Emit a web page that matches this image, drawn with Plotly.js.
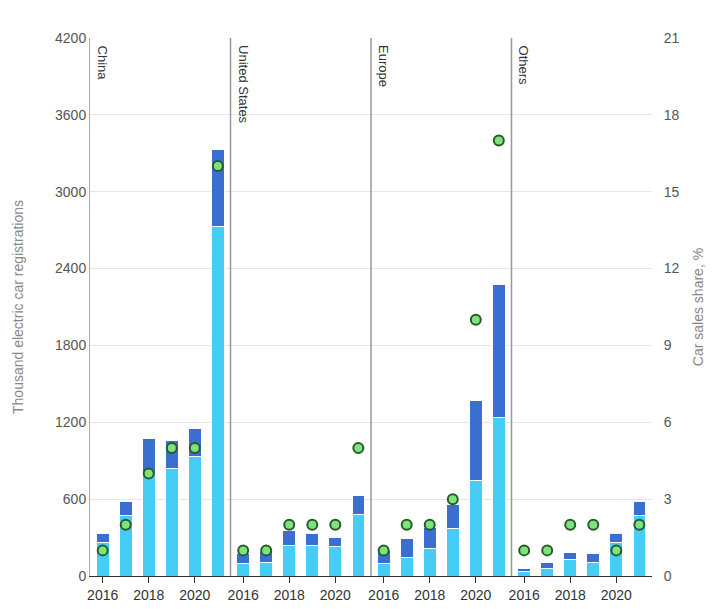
<!DOCTYPE html><html><head><script src="https://cdn.plot.ly/plotly-3.0.1.min.js"></script></head><body style="margin:0"><div id="c" style="width:720px;height:609px"></div><script>
const regions=["China","United States","Europe","Others"];
const years=[2016,2017,2018,2019,2020,2021];
const bev={China:[265,470,800,842,936,2730],"United States":[94,109,242,242,234,484],Europe:[101,148,211,367,749,1240],Others:[39,55,125,109,265,476]};
const phev={China:[70,110,276,218,219,600],"United States":[78,86,117,86,63,148],Europe:[102,148,171,195,624,1038],Others:[16,54,62,70,70,109]};
const share={China:[1,2,4,5,5,16],"United States":[1,1,2,2,2,5],Europe:[1,2,2,3,10,17],Others:[1,1,2,2,1,2]};
const traces=[],layout={width:720,height:609,margin:{l:90,r:68,t:38,b:33},barmode:"stack",showlegend:false,paper_bgcolor:"#fff",plot_bgcolor:"#fff",
font:{family:"Arial",color:"#555",size:14},
yaxis:{range:[0,4200],dtick:600,gridcolor:"#e6e6e6",zeroline:false,showline:true,linecolor:"#aaa",ticks:"",title:{text:"Thousand electric car registrations",font:{color:"#888",size:14},standoff:28},tickfont:{color:"#555"}},
yaxis2:{range:[0,21],dtick:3,overlaying:"y",side:"right",anchor:"free",position:1,showgrid:false,zeroline:false,ticklen:8,ticks:"outside",tickcolor:"rgba(0,0,0,0)",title:{text:"Car sales share, %",font:{color:"#888",size:14},standoff:14}},
shapes:[],annotations:[]};
regions.forEach((r,i)=>{const xa=i?"x"+(i+1):"x",key=i?"xaxis"+(i+1):"xaxis";
layout[key]={domain:[i/4,(i+1)/4],range:[2015.45,2021.55],tickvals:[2016,2018,2020],ticks:"outside",ticklen:6,tickcolor:"#333",showline:true,linecolor:"#333",showgrid:false,zeroline:false,anchor:"y",tickfont:{color:"#333",size:14}};
traces.push({type:"bar",x:years,y:bev[r],xaxis:xa,yaxis:"y",marker:{color:"#45cdf5",line:{color:"#fff",width:1}},width:0.55});
traces.push({type:"bar",x:years,y:phev[r],xaxis:xa,yaxis:"y",marker:{color:"#3a6fd1",line:{color:"#fff",width:1}},width:0.55});
traces.push({type:"scatter",mode:"markers",x:years,y:share[r],xaxis:xa,yaxis:"y2",marker:{size:10,color:"#7de37d",line:{color:"#2a5a2a",width:2}}});
if(i>0)layout.shapes.push({type:"line",xref:"paper",yref:"paper",x0:i/4,x1:i/4,y0:0,y1:1,line:{color:"#999",width:1.5}});
layout.annotations.push({xref:"paper",yref:"paper",x:i/4+0.005,y:0.99,text:r,textangle:90,showarrow:false,xanchor:"left",yanchor:"top",font:{color:"#333",size:13}});
});
Plotly.newPlot("c",traces,layout,{displayModeBar:false});
</script></body></html>
